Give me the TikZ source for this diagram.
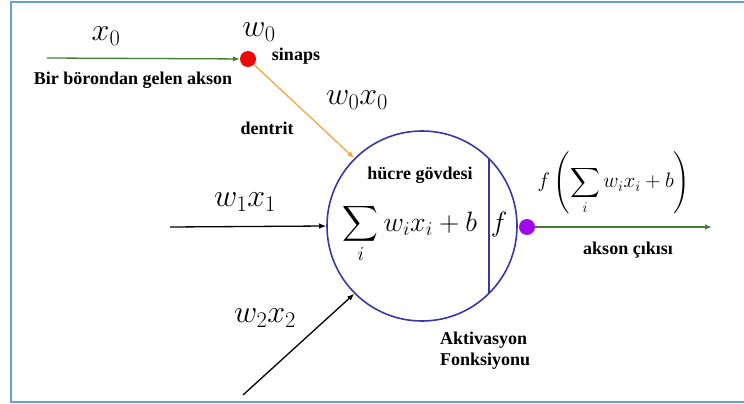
\RequirePackage{fix-cm}
\documentclass[tikz,border=0pt]{standalone}
\usepackage{amsmath}
\usepackage[no-math]{fontspec}
\setmainfont{Liberation Serif}
\usetikzlibrary{arrows.meta,calc}
\definecolor{frameblue}{RGB}{100,160,225}
\definecolor{axgreen}{RGB}{70,125,50}
\definecolor{dotred}{RGB}{235,10,10}
\definecolor{dorange}{RGB}{240,170,60}
\definecolor{cellblue}{RGB}{55,55,165}
\definecolor{dotpurple}{RGB}{160,10,235}
\tikzset{
  lbl/.style={font=\rmfamily\bfseries\fontsize{18}{21}\selectfont, inner sep=0pt},
  mlbl/.style={font=\fontsize{32}{38}\selectfont, inner sep=0pt},
  arr/.style={-{Latex[length=7pt,width=5.5pt]}, line width=1.3pt},
  dotnode/.style={circle, inner sep=0pt, minimum size=16pt},
}
\begin{document}
\begin{tikzpicture}[x=1pt,y=-1pt]
\useasboundingbox (0,0) rectangle (744,404);
\fill[white] (0,0) rectangle (744,404);
\draw[frameblue, line width=2pt] (11,2) rectangle (780,402);

% cell body
\node[draw=cellblue, line width=1.6pt, circle, minimum size=190pt, inner sep=0pt] (cell) at (422,226) {};
\draw[cellblue, line width=1.6pt] ($(cell.center)+(67,-67.3)$) -- ($(cell.center)+(67,67.3)$);
\node[font=\fontsize{28}{34}\selectfont, anchor=base, inner sep=0pt] (sum) at (410,231) {$\displaystyle\sum_i w_i x_i + b$};
\node[font=\fontsize{28}{34}\selectfont, anchor=base, inner sep=0pt] (fa) at (499,231) {$f$};
\node[lbl] (body) at (420,175) {hücre gövdesi};

% synapse input
\coordinate (in0) at (47,58);
\node[dotnode, fill=dotred] (rd) at (248,59) {};
\draw[arr, axgreen] (in0) -- (rd);
\draw[arr, dorange] (rd) -- (cell.north west);
\node[mlbl] (x0) at (106,36) {$x_0$};
\node[mlbl] (w0) at (259,32) {$w_0$};
\node[lbl] (sinaps) at (296,56) {sinaps};
\node[lbl] (akson) at (133,80) {Bir börondan gelen akson};
\node[lbl] (dentrit) at (267,128) {dentrit};
\node[mlbl] (w0x0) at (357,100) {$w_0x_0$};

% other inputs
\coordinate (in1) at (170,227);
\draw[arr] (in1) -- (cell.west);
\node[mlbl] (w1x1) at (245,202) {$w_1x_1$};
\coordinate (in2) at (243,395);
\draw[arr] (in2) -- (cell.south west);
\node[mlbl] (w2x2) at (265,318) {$w_2x_2$};

% output
\node[dotnode, fill=dotpurple] (pd) at (527,227) {};
\coordinate (out) at (712,227);
\draw[arr, axgreen] (pd) -- (out);
\node[font=\fontsize{21}{25}\selectfont, inner sep=0pt] (fo) at (614,183) {$f\left(\displaystyle\sum_i w_i x_i + b\right)$};
\node[lbl] (cikis) at (628,250) {akson çıkısı};
\node[lbl, align=left, anchor=north west] (akt) at (440,332) {Aktivasyon\\Fonksiyonu};
\end{tikzpicture}
\end{document}
